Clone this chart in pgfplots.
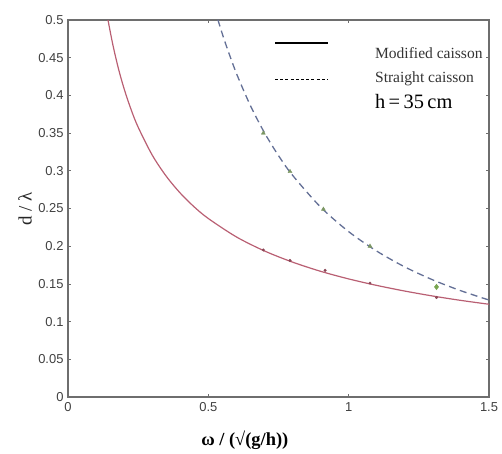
\documentclass[border=0pt]{standalone}
\usepackage{fontspec}
\setmainfont{Liberation Serif}
\newfontfamily\arial{Liberation Sans}
\usepackage{pgfplots}
\pgfplotsset{compat=1.18}
\definecolor{axgray}{RGB}{110,110,110}
\definecolor{solidc}{RGB}{185,95,115}
\definecolor{dashc}{RGB}{100,112,150}
\definecolor{markg}{RGB}{120,165,80}
\begin{document}
\begin{tikzpicture}
\useasboundingbox (-68bp,-57bp) rectangle (434bp,397bp);
\begin{axis}[
  scale only axis,
  width=421bp, height=377bp,
  xmin=0, xmax=1.5, ymin=0, ymax=0.5,
  xtick={0,0.5,1,1.5},
  ytick={0,0.05,0.1,0.15,0.2,0.25,0.3,0.35,0.4,0.45,0.5},
  xticklabels={0,0.5,1,1.5},
  yticklabels={0,0.05,0.1,0.15,0.2,0.25,0.3,0.35,0.4,0.45,0.5},
  tick align=inside,
  major tick length=3.5bp,
  tick style={axgray, line width=0.8bp},
  axis line style={axgray, line width=1.3bp},
  ticklabel style={font=\arial\fontsize{13}{13}\selectfont, text=black!75},
  xticklabel style={yshift=-2bp},
  yticklabel style={xshift=-1bp},
  /pgf/number format/assume math mode=true,
  xlabel={\textbf{ω / (√(g/h))}},
  ylabel={d / λ},
  xlabel style={at={(axis description cs:0.42,-0.114)}, anchor=center, font=\fontsize{18.5}{18.5}\selectfont},
  ylabel style={at={(axis description cs:-0.102,0.5)}, anchor=center, font=\fontsize{19}{19}\selectfont, text=black!85},
  clip=true,
]
% Modified caisson (solid)
\addplot[solidc, line width=1.2bp, smooth] coordinates {
(0.1425,0.500) (0.16,0.4668) (0.18,0.4351) (0.2,0.4087) (0.225,0.3810) (0.25,0.3578)
(0.3,0.3209) (0.35,0.2928) (0.4,0.2704) (0.45,0.2520) (0.5,0.2367) (0.6,0.2123)
(0.7,0.1937) (0.8,0.1789) (0.9,0.1667) (1.0,0.1566) (1.1,0.1480) (1.2,0.1405)
(1.3,0.1339) (1.4,0.1281) (1.5,0.1230)};
% Straight caisson (dashed)
\addplot[dashc, line width=1.3bp, smooth, dash pattern=on 7bp off 4.5bp] coordinates {
(0.534,0.5004) (0.56,0.4701) (0.6,0.4293) (0.65,0.3864) (0.7,0.3505) (0.75,0.3201)
(0.8,0.2941) (0.9,0.2519) (1.0,0.2193) (1.1,0.1935) (1.2,0.1725) (1.3,0.1553)
(1.4,0.1409) (1.5,0.1286)};
% markers on solid curve
\addplot[only marks, mark=*, mark size=1.3bp, solidc!75!black] coordinates {
(0.696,0.195) (0.791,0.181) (0.916,0.168) (1.076,0.151) (1.313,0.132)};
% markers on dashed curve
\addplot[only marks, mark=triangle*, mark size=2.3bp, markg!60!gray] coordinates {
(0.696,0.350) (0.791,0.299) (0.91,0.249) (1.076,0.200)};
\addplot[only marks, mark=diamond*, mark size=2.8bp, markg] coordinates {
(1.313,0.146)};
% legend
\draw[black, line width=1.1bp] (axis description cs:0.4917,0.939) -- (axis description cs:0.6176,0.939);
\draw[black, line width=1.1bp, dash pattern=on 3bp off 2.2bp] (axis description cs:0.4917,0.841) -- (axis description cs:0.6176,0.841);
\node[anchor=west, inner sep=0pt, font=\fontsize{15.6}{15.6}\selectfont, text=black!80] at (axis description cs:0.729,0.913) {Modified caisson};
\node[anchor=west, inner sep=0pt, font=\fontsize{15.6}{15.6}\selectfont, text=black!80] at (axis description cs:0.729,0.844) {Straight caisson};
\node[anchor=west, inner sep=0pt, font=\fontsize{20.5}{20.5}\selectfont] at (axis description cs:0.729,0.783) {h\,=\,35\,cm};
\end{axis}
\end{tikzpicture}
\end{document}
